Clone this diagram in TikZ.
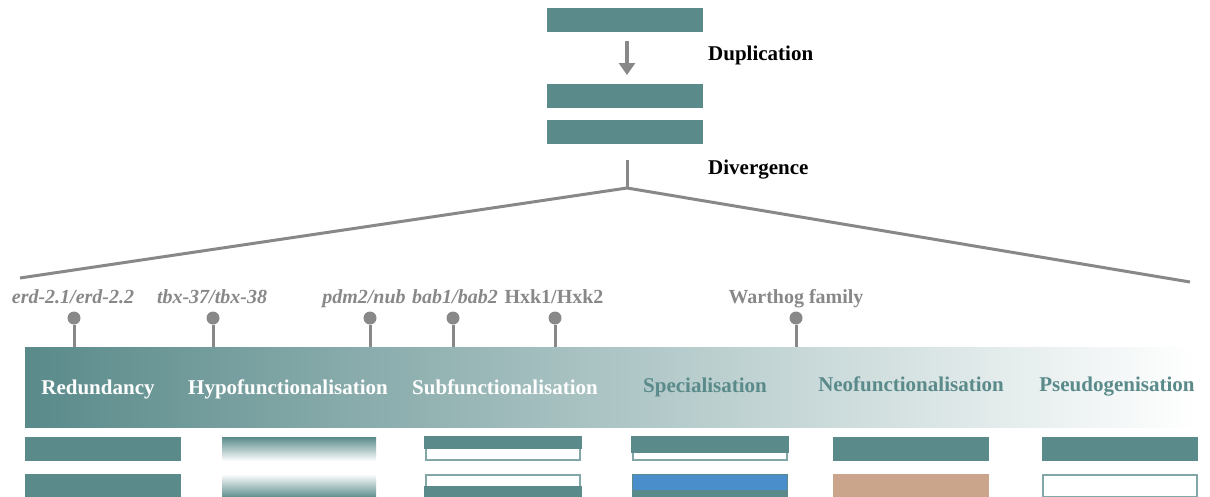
\documentclass[tikz,border=0pt]{standalone}
\usepackage{fontspec}
\setmainfont{Liberation Serif}
\usepackage{xcolor}
\definecolor{genegreen}{HTML}{5A8A8A}
\definecolor{pingray}{HTML}{888888}
\definecolor{specblue}{HTML}{4A8ECB}
\definecolor{neotan}{HTML}{CAA58B}
\usetikzlibrary{arrows.meta,positioning,calc}

\begin{document}
\begin{tikzpicture}[x=1pt, y=-1pt,
      gene/.style={fill=genegreen, minimum width=156pt, minimum height=24pt, inner sep=0pt, outer sep=0pt},
      outl/.style={draw=genegreen!75, line width=1.3pt, fill=white, minimum width=154pt, minimum height=22pt, inner sep=0pt},
      stage/.style={anchor=base west, inner sep=0pt, font=\fontsize{21}{24}\selectfont\bfseries},
      gname/.style={anchor=base, inner sep=0pt, text=pingray, font=\fontsize{20}{22}\selectfont\bfseries\itshape},
      mode/.style={anchor=base, inner sep=0pt, font=\fontsize{21}{24}\selectfont\bfseries},
      pin/.style={circle, fill=pingray, minimum size=13pt, inner sep=0pt},
      stem/.style={draw=pingray, line width=3pt},
      arr/.style={draw=pingray, line width=4pt, -{Triangle[width=16pt,length=12pt]}}
    ]
    \useasboundingbox (0,0) rectangle (1210,496);
    % duplication and divergence
    \node[gene] (g0) at (625,20) {};
    \node[gene] (g1) at (625,96) {};
    \node[gene] (g2) at (625,132) {};
    \draw[arr] ($(g0.south)+(2,9)$) -- ($(g1.north)+(2,-9)$);
    \node[stage] (dup) at (708,60) {Duplication};
    \coordinate (dtop) at (627,160);
    \coordinate (fork) at (627,188);
    \coordinate (fl) at (20,278);
    \coordinate (fr) at (1190,282);
    \draw[stem] (dtop) -- (fork);
    \draw[stem, line join=round] (fl) -- (fork) -- (fr);
    \node[stage] (div) at (708,174) {Divergence};

    % fate band
    \node[left color=genegreen, right color=white, minimum width=1170pt, minimum height=80pt, inner sep=0pt] (band) at (610,387) {};
    \node[mode, text=white] (m1) at (98,394) {Redundancy};
    \node[mode, text=white] (m2) at (288,394) {Hypofunctionalisation};
    \node[mode, text=white] (m3) at (505,394) {Subfunctionalisation};
    \node[mode, text=genegreen] (m4) at (705,392) {Specialisation};
    \node[mode, text=genegreen] (m5) at (911,391) {Neofunctionalisation};
    \node[mode, text=genegreen] (m6) at (1117,391) {Pseudogenisation};

    % examples
    \node[gname] (e1) at (73,303) {erd-2.1/erd-2.2};
    \node[gname] (e2) at (212,303) {tbx-37/tbx-38};
    \node[gname] (e3) at (364,303) {pdm2/nub};
    \node[gname] (e4) at (455,303) {bab1/bab2};
    \node[gname, font=\fontsize{20}{22}\selectfont\bfseries] (e5) at (554,303) {Hxk1/Hxk2};
    \node[gname, font=\fontsize{20}{22}\selectfont\bfseries] (e6) at (796,303) {Warthog family};
    \foreach \px/\n in {74/1, 213/2, 370/3, 453/4, 555/5, 796/6} {
      \node[pin] (p\n) at (\px,318) {};
      \draw[stem] (p\n) -- (p\n |- band.north);
    }

    % gene copies per fate
    \node[gene] (r1) at (103,449) {};
    \node[gene] (r2) at (103,486) {};
    \node[top color=genegreen, bottom color=white, minimum width=154pt, minimum height=24pt, inner sep=0pt] (h1) at (299,449) {};
    \node[top color=white, bottom color=genegreen, minimum width=154pt, minimum height=24pt, inner sep=0pt] (h2) at (299,486) {};
    \node[outl] (s1) at (503,449) {};
    \fill[genegreen] ($(s1.north west)+(-1,-1)$) rectangle ($(s1.east)+(1,0)$);
    \node[outl] (s2) at (503,486) {};
    \fill[genegreen] ($(s2.west)+(-1,0)$) rectangle ($(s2.south east)+(1,1)$);
    \node[outl] (sp1) at (710,449) {};
    \fill[genegreen] ($(sp1.north west)+(-1,-1)$) rectangle ($(sp1.east)+(1,4)$);
    \node[gene] (sp2) at (710,486) {};
    \fill[specblue] ($(sp2.north west)+(1,1)$) rectangle ($(sp2.east)+(-1,4)$);
    \node[gene] (n1) at (911,449) {};
    \node[gene, fill=neotan] (n2) at (911,486) {};
    \node[gene] (ps1) at (1120,449) {};
    \node[outl] (ps2) at (1120,486) {};
  \end{tikzpicture}
\end{document}
